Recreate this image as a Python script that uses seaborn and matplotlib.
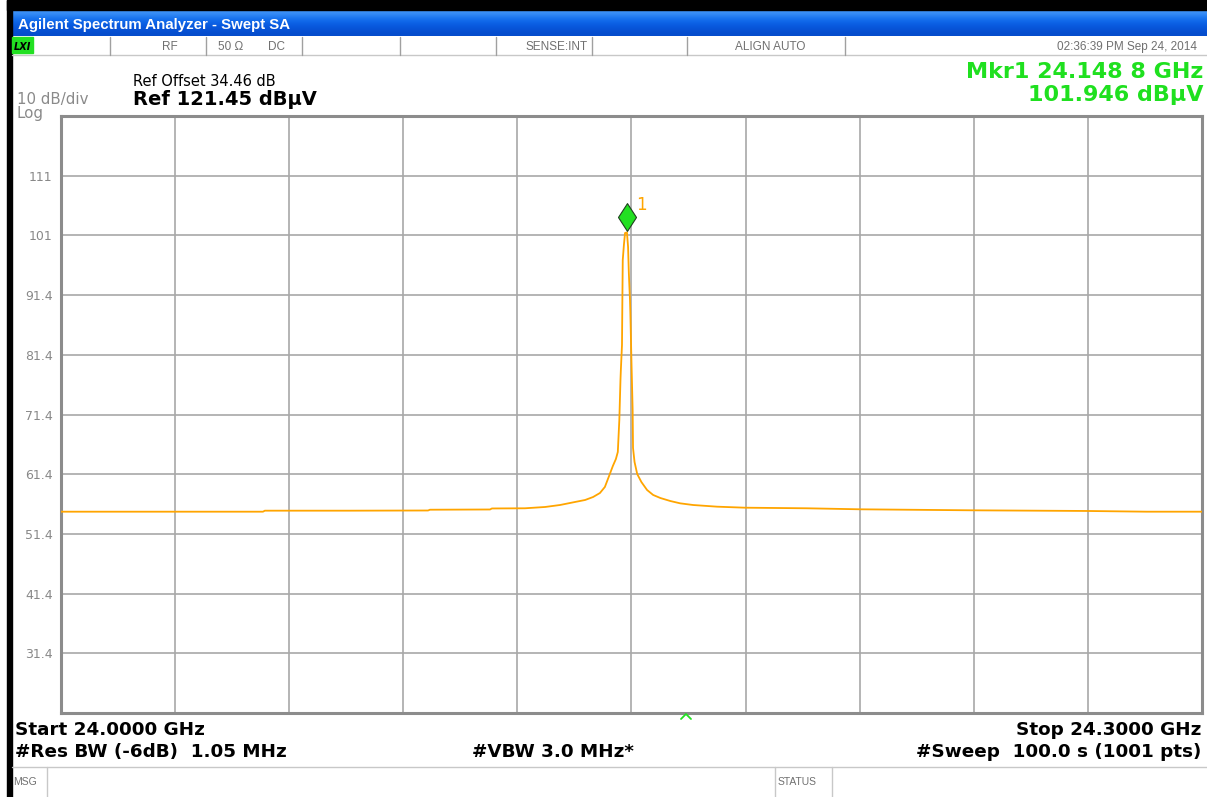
import numpy as np
import matplotlib
matplotlib.use("Agg")
import matplotlib.pyplot as plt
from matplotlib.patches import Rectangle
from matplotlib.lines import Line2D
from matplotlib.path import Path
import matplotlib.transforms as mtransforms
import seaborn as sns
import pandas as pd

# ---------------- data ----------------
freq_ghz = [24.0000, 24.0234, 24.0531, 24.0536, 24.0760, 24.0965, 24.0970, 24.1128,
            24.1133, 24.1220, 24.1273, 24.1312, 24.1351, 24.1378, 24.1399, 24.1417,
            24.1430, 24.1443, 24.1451, 24.1459, 24.1464, 24.1468, 24.1471, 24.1472,
            24.1475, 24.1476, 24.1477, 24.1480, 24.1483, 24.1488, 24.1491, 24.1493,
            24.1496, 24.1497, 24.1500, 24.1503, 24.1504, 24.1508, 24.1515, 24.1526,
            24.1541, 24.1557, 24.1576, 24.1602, 24.1628, 24.1662, 24.1725, 24.1798,
            24.1961, 24.2101, 24.2398, 24.2698, 24.2855, 24.3000]
level_dbuv = [55.17, 55.17, 55.17, 55.34, 55.34, 55.37, 55.50, 55.54,
              55.71, 55.74, 55.96, 56.29, 56.79, 57.13, 57.63, 58.30,
              59.31, 61.48, 62.83, 64.00, 65.17, 70.53, 77.23, 78.90,
              83.09, 90.60, 97.33, 99.84, 101.85, 101.95, 99.50, 95.15,
              90.63, 88.45, 80.00, 72.20, 65.84, 63.50, 61.48, 60.14,
              58.80, 57.97, 57.46, 56.96, 56.57, 56.29, 56.01, 55.84,
              55.74, 55.57, 55.40, 55.29, 55.17, 55.17]
ytick_labels = ["31.4", "41.4", "51.4", "61.4", "71.4", "81.4", "91.4", "101", "111"]
start_ghz = 24.0
stop_ghz = 24.3
ref_level = 121.45
db_per_div = 10
marker_freq = 24.1488
marker_level = 101.946

# ---------------- figure ----------------
W, H = 1207, 797
sns.set_style("white")
plt.rcParams['font.family'] = ['DejaVu Sans']
fig = plt.figure(figsize=(W / 100, H / 100), dpi=100)
fig.patch.set_facecolor('white')


def fx(x):
    return x / W


def fy(y):
    return 1 - y / H


def frect(x0, y0, x1, y1, **kw):
    fig.patches.append(Rectangle((fx(x0), fy(y1)), (x1 - x0) / W, (y1 - y0) / H,
                                 transform=fig.transFigure, **kw))


def fline(xs, ys, **kw):
    fig.lines.append(Line2D([fx(v) for v in xs], [fy(v) for v in ys],
                            transform=fig.transFigure, **kw))


# black frame edges
frect(7, 0, 1207, 10, color='black', zorder=1)
frect(7, 0, 12, 797, color='black', zorder=1)

# title bar with gradient
ax_t = fig.add_axes([fx(12), fy(36), (1207 - 12) / W, 26 / H])
grad = np.array([[0.25, 0.58, 0.97], [0.10, 0.46, 0.94], [0.04, 0.38, 0.90],
                 [0.03, 0.33, 0.85], [0.02, 0.30, 0.80]])
ax_t.imshow(grad[:, None, :], aspect='auto', interpolation='bicubic', extent=[0, 1, 0, 1])
ax_t.set_axis_off()
fig.text(fx(18), fy(28.5), 'Agilent Spectrum Analyzer - Swept SA', color='white',
         fontsize=10.8, fontweight='bold', family=['Liberation Sans', 'DejaVu Sans'],
         va='baseline', ha='left')

# status row
fline([12, 1207], [55, 55], color='#c8c8c8', lw=1)
for sx in [110, 206, 302, 400, 496, 592, 687, 845]:
    fline([sx, sx], [37, 55], color='#a0a0a0', lw=1)
frect(12, 37, 33, 53, color='#22e022', zorder=2)
fig.text(fx(22), fy(50), 'LXI', fontsize=7, fontweight='bold', style='italic',
         color='black', ha='center', va='baseline', zorder=3)
st_kw = dict(fontsize=8.5, color='#707070', family=['Liberation Sans', 'DejaVu Sans'], va='baseline')
fig.text(fx(170), fy(50), 'RF', ha='center', **st_kw)
fig.text(fx(218), fy(50), '50 Ω', ha='left', **st_kw)
fig.text(fx(268), fy(50), 'DC', ha='left', **st_kw)
fig.text(fx(588), fy(50), 'SENSE:INT', ha='right', **st_kw)
fig.text(fx(770), fy(50), 'ALIGN AUTO', ha='center', **st_kw)
fig.text(fx(1197), fy(50), '02:36:39 PM Sep 24, 2014', ha='right', **st_kw)

# header texts
fig.text(fx(133), fy(85.5), 'Ref Offset 34.46 dB', fontsize=10.5, color='black',
         ha='left', va='baseline')
fig.text(fx(133), fy(105), 'Ref 121.45 dBµV', fontsize=14, fontweight='bold',
         color='black', ha='left', va='baseline')
fig.text(fx(17), fy(104), '10 dB/div', fontsize=10.8, color='#8a8a8a', ha='left', va='baseline')
fig.text(fx(17), fy(118), 'Log', fontsize=10.8, color='#8a8a8a', ha='left', va='baseline')
fig.text(fx(1203), fy(78), 'Mkr1 24.148 8 GHz', fontsize=16, fontweight='bold',
         color='#1fe01f', ha='right', va='baseline')
fig.text(fx(1203), fy(101), '101.946 dBµV', fontsize=16, fontweight='bold',
         color='#1fe01f', ha='right', va='baseline')

# ---------------- trace axes ----------------
ax = fig.add_axes([fx(61), fy(713), (1202 - 61) / W, (713 - 116) / H])
df = pd.DataFrame({'freq': freq_ghz, 'level': level_dbuv})
sns.lineplot(data=df, x='freq', y='level', ax=ax, color='#FFA500', lw=1.3,
             estimator=None, sort=False, zorder=3)
ax.set_xlim(start_ghz, stop_ghz)
ax.set_ylim(ref_level - 10 * db_per_div, ref_level)
ax.set_xticks(np.linspace(start_ghz, stop_ghz, 11))
ax.set_xticklabels([])
ax.set_yticks([ref_level - db_per_div * k for k in range(9, 0, -1)])
ax.set_yticklabels(ytick_labels, color='#888888', fontsize=9)
ax.tick_params(axis='both', length=0, pad=6)
ax.grid(True, color='#a8a8a8', lw=1.2)
ax.set_axisbelow(True)
ax.set_xlabel('')
ax.set_ylabel('')
for s in ax.spines.values():
    s.set_color('#8c8c8c')
    s.set_linewidth(2.2)

# marker diamond and label
diamond = Path([(0, 1), (0.65, 0), (0, -1), (-0.65, 0), (0, 1)],
               [Path.MOVETO, Path.LINETO, Path.LINETO, Path.LINETO, Path.CLOSEPOLY])
mk_tr = mtransforms.offset_copy(ax.transData, fig=fig, x=0, y=15, units='dots')
ax.plot([marker_freq], [marker_level], marker=diamond, ms=20, mfc='#22e022', mec='#204020',
        mew=0.8, transform=mk_tr, zorder=5, clip_on=False)
ax.annotate('1', xy=(marker_freq, marker_level), xytext=(15, 27), textcoords='offset pixels',
            color='#FFA500', fontsize=12, ha='center', va='center', zorder=5)

# centre caret below the grid
fline([681, 686, 691], [719, 714, 719], color='#22e022', lw=1.3)

# ---------------- bottom texts ----------------
b_kw = dict(fontsize=13.2, fontweight='bold', color='black', va='baseline')
fig.text(fx(15), fy(735), 'Start 24.0000 GHz', ha='left', **b_kw)
fig.text(fx(15), fy(757), '#Res BW (-6dB)  1.05 MHz', ha='left', **b_kw)
fig.text(fx(472), fy(757), '#VBW 3.0 MHz*', ha='left', **b_kw)
fig.text(fx(1201), fy(735), 'Stop 24.3000 GHz', ha='right', **b_kw)
fig.text(fx(1201), fy(757), '#Sweep  100.0 s (1001 pts)', ha='right', **b_kw)

# message bar
fline([12, 1207], [767, 767], color='#c8c8c8', lw=1)
for sx in [47, 775, 832]:
    fline([sx, sx], [767, 797], color='#c8c8c8', lw=1)
m_kw = dict(fontsize=7.5, color='#707070', family=['Liberation Sans', 'DejaVu Sans'], va='baseline')
fig.text(fx(13), fy(785), 'MSG', ha='left', **m_kw)
fig.text(fx(778), fy(785), 'STATUS', ha='left', **m_kw)

fig.savefig('out.png', dpi=100, facecolor='white')
